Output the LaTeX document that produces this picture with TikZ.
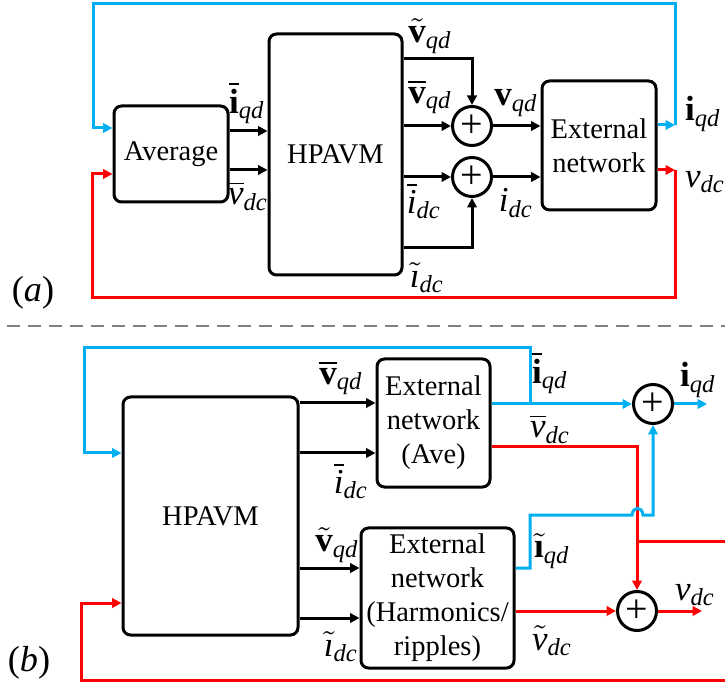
\documentclass[tikz,border=0pt]{standalone}
\usepackage{amsmath}
\usepackage{fontspec}
\setmainfont{Liberation Serif}
\usepackage{xcolor}
\definecolor{fbBlue}{HTML}{00B0F0}
\definecolor{fbRed}{HTML}{FF0000}
\definecolor{sepGray}{HTML}{808080}
\usepackage{tikz}
\usetikzlibrary{arrows.meta}

\newcommand{\vecV}{\text{\textbf{v}}}
\newcommand{\vecI}{\text{\textbf{i}}}
\newcommand{\vecIdl}{\text{\textbf{\i}}}
\newcommand{\itV}{\text{\textit{v}}}
\newcommand{\itI}{\text{\textit{i}}}
\newcommand{\itIdl}{\text{\textit{\i}}}
\newcommand{\sqd}{\text{\textit{qd}}}
\newcommand{\sdc}{\text{\textit{dc}}}

\begin{document}
\begin{tikzpicture}[
		x=0.4pt, y=-0.4pt,
		font=\fontsize{11.4}{13.6}\selectfont,
		line width=1.2pt,
		box/.style={
			draw,
			rounded corners=3pt,
			align=center,
			inner sep=0pt
		},
		sumnode/.style={draw, circle, minimum size=15.6pt, inner sep=0pt, font=\fontsize{16}{16}\selectfont},
		lbl/.style={inner sep=0pt, font=\fontsize{14}{16}\selectfont},
		arrow/.style={-{Triangle[length=3.8pt, width=3.8pt]}},
		bline/.style={fbBlue},
		rline/.style={fbRed},
		sepline/.style={sepGray, line width=0.8pt, dash pattern=on 5.2pt off 3.2pt}
		]
		
		\useasboundingbox (0,0) rectangle (725,684);
		
		% (a) averaging of the full model
		\node[box, minimum width=45.6pt, minimum height=38.4pt] (avg) at (171,154) {Average};
		\node[box, minimum width=53.2pt, minimum height=96.4pt] (hpA) at (335.5,154.5) {HPAVM};
		\node[sumnode] (sumV) at (472,126) {+};
		\node[sumnode] (sumI) at (472,177) {+};
		\node[box, minimum width=45.6pt, minimum height=51.6pt] (extA) at (599,145.5) {External\\network};
		
		\draw[arrow] (avg.east |- 0,131) -- (hpA.west |- 0,131);
		\draw[arrow] (avg.east |- 0,170) -- (hpA.west |- 0,170);
		\draw[arrow] (hpA.east |- 0,59) -| (sumV.north);
		\draw[arrow] (hpA.east |- sumV) -- (sumV.west);
		\draw[arrow] (hpA.east |- sumI) -- (sumI.west);
		\draw[arrow] (hpA.east |- 0,248) -| (sumI.south);
		\draw[arrow] (sumV.east) -- (extA.west |- sumV);
		\draw[arrow] (sumI.east) -- (extA.west |- sumI);
		
		\coordinate (iqdA) at (675,125);
		\coordinate (topA) at (93,4);
		\draw[bline, arrow] (extA.east |- iqdA) -- (iqdA);
		\draw[bline, arrow] (iqdA) |- (topA) |- (avg.west |- 0,128);
		
		\coordinate (vdcA) at (675,170);
		\coordinate (botA) at (92,298);
		\draw[rline, arrow] (extA.east |- vdcA) -- (vdcA);
		\draw[rline, arrow] (vdcA) |- (botA) |- (avg.west |- 0,174);
		
		\node[lbl] (lIavgA) at (247,103) {$\overline{\vecI}_{\sqd}$};
		\node[lbl] (lVavgA) at (248,196) {$\overline{\itV}_{\sdc}$};
		\node[lbl] (lVtilA) at (430,36) {$\tilde{\vecV}_{\sqd}$};
		\node[lbl] (lVbarA) at (430,97) {$\overline{\vecV}_{\sqd}$};
		\node[lbl] (lVqdA) at (516,103) {$\vecV_{\sqd}$};
		\node[lbl] (lIbarA) at (424,201) {$\overline{\itI}_{\sdc}$};
		\node[lbl] (lIdcA) at (516,203) {$\itI_{\sdc}$};
		\node[lbl] (lItilA) at (427,278) {$\tilde{\itIdl}_{\sdc}$};
		\node[lbl] (lIqdA) at (703,114) {$\vecI_{\sqd}$};
		\node[lbl] (lVdcA) at (705,182) {$\itV_{\sdc}$};
		\node[lbl, font=\fontsize{14.5}{16}\selectfont] (tagA) at (33,293) {(\textit{a})};
		
		\draw[sepline] (7,326) -- (725,326);
		
		% (b) split into average and ripple networks
		\node[box, minimum width=70pt, minimum height=95.2pt] (hpB) at (210.5,516) {HPAVM};
		\node[box, minimum width=45.2pt, minimum height=51.2pt] (aveB) at (433.5,423) {External\\network\\(Ave)};
		\node[box, minimum width=61.2pt, minimum height=56pt] (harB) at (437.5,598) {External\\network\\(Harmonics/\\ripples)};
		\node[sumnode] (sumIb) at (653,404) {+};
		\node[sumnode] (sumVb) at (637,611) {+};
		
		\draw[arrow] (hpB.east |- 0,403) -- (aveB.west |- 0,403);
		\draw[arrow] (hpB.east |- 0,453) -- (aveB.west |- 0,453);
		\draw[arrow] (hpB.east |- 0,568) -- (harB.west |- 0,568);
		\draw[arrow] (hpB.east |- 0,618) -- (harB.west |- 0,618);
		
		\coordinate (jB) at (530,404);
		\coordinate (topB) at (84,348);
		\coordinate (iqdB) at (707,404);
		\draw[bline, arrow] (aveB.east |- sumIb) -- (sumIb.west);
		\draw[bline, arrow] (jB) |- (topB) |- (hpB.west |- 0,453);
		\draw[bline, arrow] (sumIb.east) -- (iqdB);
		
		\draw[rline, arrow] (aveB.east |- 0,447) -| (sumVb.north);
		\draw[bline, arrow] (harB.east |- 0,568) -| (530,515) -- (632,515)
			.. controls (633,506) and (642,506) .. (643,515) -| (sumIb.south);
		\draw[rline, arrow] (harB.east |- sumVb) -- (sumVb.west);
		
		\coordinate (vdcB) at (702,611);
		\coordinate (jR) at (637,541);
		\coordinate (edgeR) at (725,541);
		\coordinate (edgeB) at (725,680);
		\coordinate (botB) at (81,680);
		\draw[rline, arrow] (sumVb.east) -- (vdcB);
		\draw[rline] (jR) -- (edgeR);
		\draw[rline, arrow] (edgeB) -- (botB) |- (hpB.west |- 0,603);
		
		\node[lbl] (lVbarB) at (341,378) {$\overline{\vecV}_{\sqd}$};
		\node[lbl] (lIbarB) at (351,481) {$\overline{\itI}_{\sdc}$};
		\node[lbl] (lVtilB) at (337,545) {$\tilde{\vecV}_{\sqd}$};
		\node[lbl] (lItilB) at (341,647) {$\tilde{\itIdl}_{\sdc}$};
		\node[lbl] (lIavgB) at (550,373) {$\overline{\vecI}_{\sqd}$};
		\node[lbl] (lVavgB) at (550,429) {$\overline{\itV}_{\sdc}$};
		\node[lbl] (lIripB) at (552,551) {$\tilde{\vecIdl}_{\sqd}$};
		\node[lbl] (lVripB) at (552,641) {$\tilde{\itV}_{\sdc}$};
		\node[lbl] (lIqdB) at (698,380) {$\vecI_{\sqd}$};
		\node[lbl] (lVdcB) at (695,595) {$\itV_{\sdc}$};
		\node[lbl, font=\fontsize{14.5}{16}\selectfont] (tagB) at (29,663) {(\textit{b})};
		
	\end{tikzpicture}
\end{document}
